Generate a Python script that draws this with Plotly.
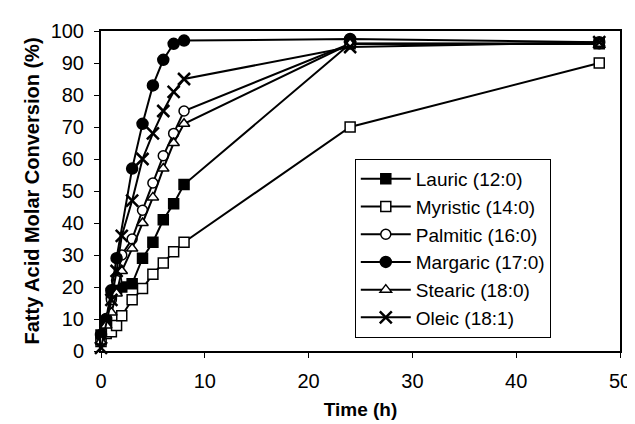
import plotly.graph_objects as go

series_names = ["Lauric (12:0)", "Myristic (14:0)", "Palmitic (16:0)",
                "Margaric (17:0)", "Stearic (18:0)", "Oleic (18:1)"]

lauric_t = [0, 0.5, 1, 1.5, 2, 3, 4, 5, 6, 7, 8, 24, 48]
lauric_y = [5, 9, 18, 19, 20, 21, 29, 34, 41, 46, 52, 96, 96]

myristic_t = [0, 0.5, 1, 1.5, 2, 3, 4, 5, 6, 7, 8, 24, 48]
myristic_y = [3, 5.5, 6, 8, 11, 16, 19.5, 24, 27.5, 31, 34, 70, 90]

palmitic_t = [0, 0.5, 1, 1.5, 2, 3, 4, 5, 6, 7, 8, 24, 48]
palmitic_y = [5, 10, 16, 22, 30, 35, 44, 52.5, 61, 68, 75, 96, 96]

margaric_t = [0, 0.5, 1, 1.5, 3, 4, 5, 6, 7, 8, 24, 48]
margaric_y = [5, 10, 19, 29, 57, 71, 83, 91, 96, 97, 97.5, 96.5]

stearic_t = [0, 0.5, 1, 1.5, 2, 3, 4, 5, 6, 7, 8, 24, 48]
stearic_y = [3, 8, 12, 18, 25, 32, 40, 48, 57, 65, 71, 96, 96]

oleic_t = [0, 1, 1.5, 2, 3, 4, 5, 6, 7, 8, 24, 48]
oleic_y = [1, 16, 25, 36, 47, 60, 68, 75, 81, 85, 95, 96.5]

x_ticks = [0, 10, 20, 30, 40, 50]
y_ticks = [0, 10, 20, 30, 40, 50, 60, 70, 80, 90, 100]

data = [
    (lauric_t, lauric_y, dict(symbol="square", color="black", size=10,
                              line=dict(color="black", width=1.5))),
    (myristic_t, myristic_y, dict(symbol="square", color="white", size=10,
                                  line=dict(color="black", width=1.5))),
    (palmitic_t, palmitic_y, dict(symbol="circle", color="white", size=10,
                                  line=dict(color="black", width=1.5))),
    (margaric_t, margaric_y, dict(symbol="circle", color="black", size=11,
                                  line=dict(color="black", width=1.5))),
    (stearic_t, stearic_y, dict(symbol="triangle-up", color="white", size=10,
                                line=dict(color="black", width=1.5))),
    (oleic_t, oleic_y, dict(symbol="x-thin", color="black", size=12,
                            line=dict(color="black", width=2.5))),
]

fig = go.Figure()
for name, (t, y, marker) in zip(series_names, data):
    fig.add_trace(go.Scatter(
        x=t, y=y, name=name, mode="lines+markers",
        line=dict(color="black", width=2),
        marker=marker, cliponaxis=False, legendgroup=name,
    ))

fig.update_layout(
    width=635, height=424,
    margin=dict(l=93, r=12, t=23, b=81),
    paper_bgcolor="white", plot_bgcolor="white",
    font=dict(family="Liberation Sans, Arial, sans-serif", size=20, color="black"),
    showlegend=True,
    legend=dict(x=0.489, y=0.6, xanchor="left", yanchor="top",
                bordercolor="black", borderwidth=1, bgcolor="white",
                font=dict(size=19), tracegroupgap=0, itemwidth=50),
    xaxis=dict(range=[0, 50], tickvals=x_ticks, showgrid=False, zeroline=False,
               showline=True, linecolor="black", linewidth=2, mirror=True,
               ticks="outside", ticklen=5, tickcolor="black",
               ticklabelstandoff=6, tickfont=dict(size=20),
               title=dict(text="<b>Time (h)</b>", font=dict(size=19), standoff=12)),
    yaxis=dict(range=[0, 100], tickvals=y_ticks, showgrid=False, zeroline=False,
               showline=True, linecolor="black", linewidth=2, mirror=True,
               ticks="outside", ticklen=5, tickcolor="black",
               ticklabelstandoff=6, tickfont=dict(size=20),
               title=dict(text="<b>Fatty Acid Molar Conversion (%)</b>",
                          font=dict(size=20), standoff=6)),
)

fig.write_html("out.html")
